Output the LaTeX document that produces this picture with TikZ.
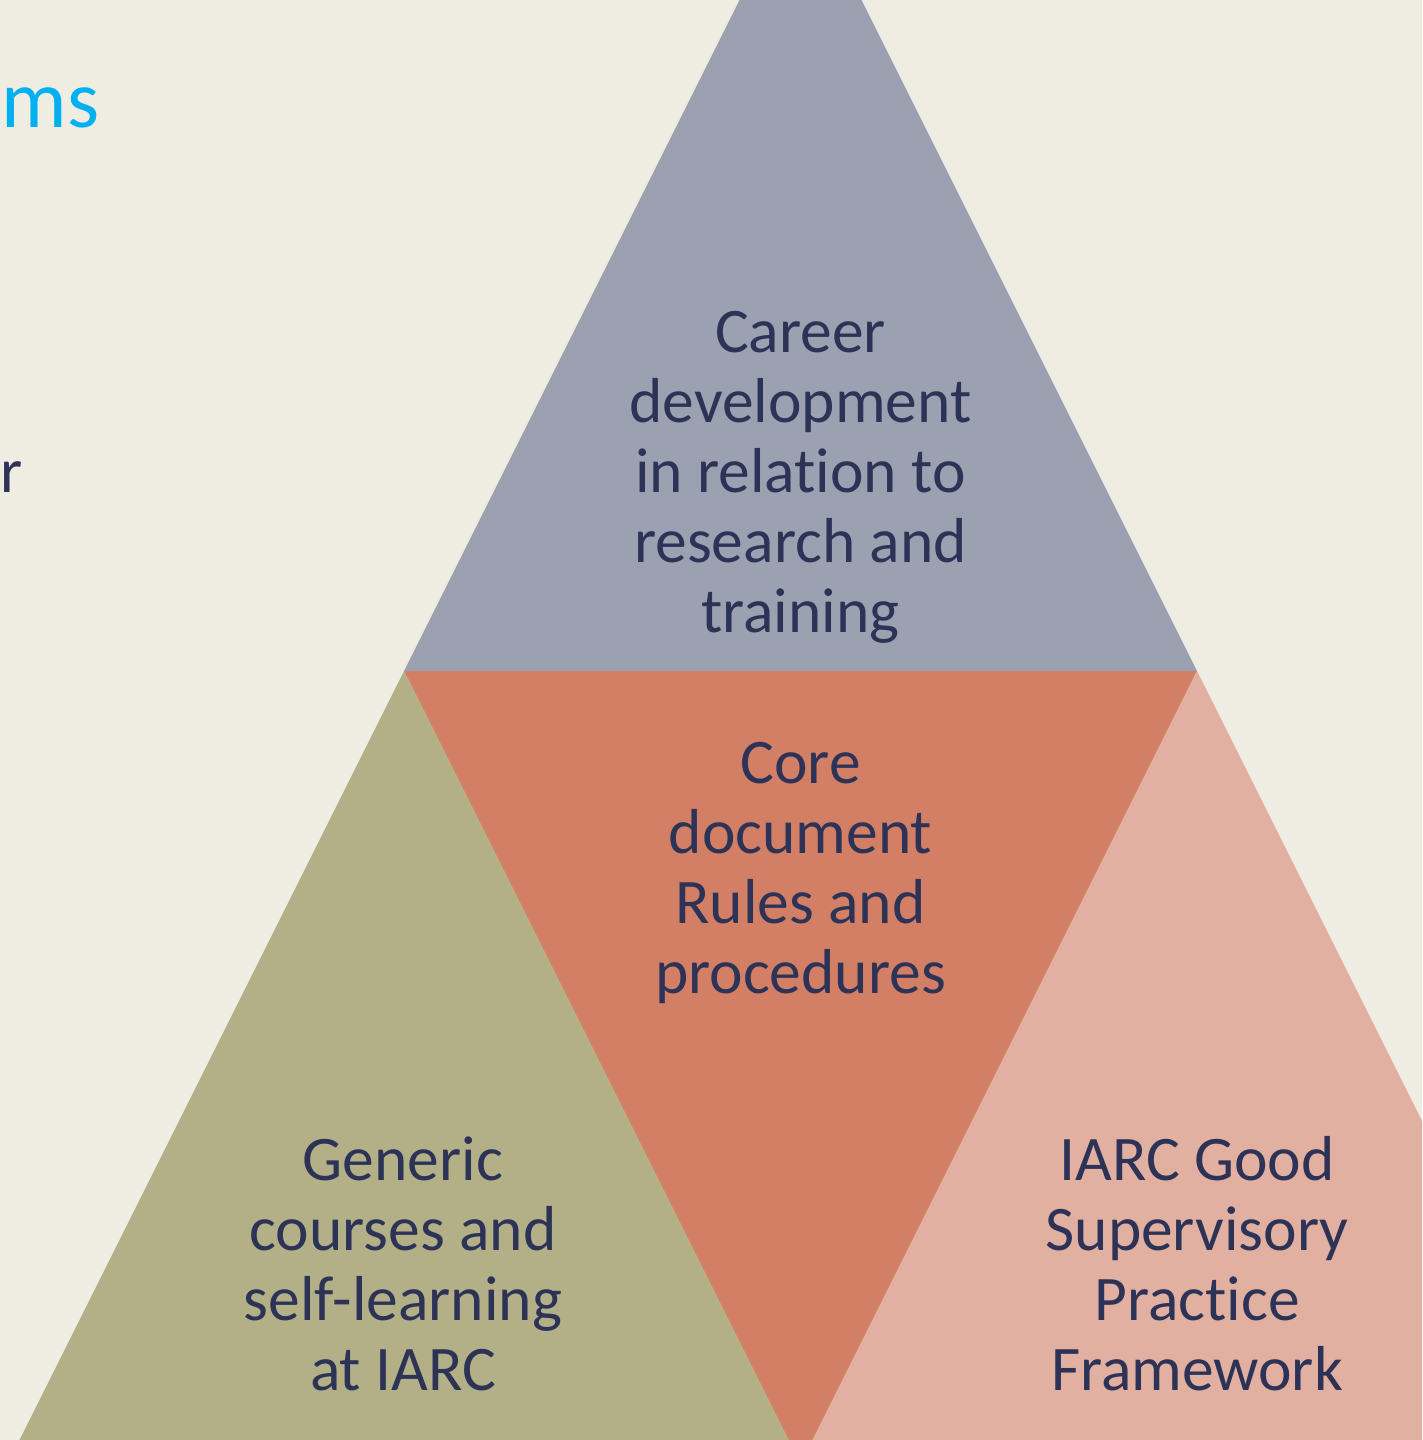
\documentclass[tikz,border=0pt]{standalone}
\usepackage{fontspec}
\setmainfont{Carlito}[Ligatures={NoCommon,NoDiscretionary}]
\definecolor{bgc}{HTML}{EFEDE2}
\definecolor{topc}{HTML}{9CA1B1}
\definecolor{midc}{HTML}{D27F66}
\definecolor{leftc}{HTML}{B3B087}
\definecolor{rightc}{HTML}{E2B0A1}
\definecolor{txtc}{HTML}{2D3356}
\definecolor{titlec}{HTML}{00B0F0}
\newcommand\mystack[1]{\vtop{\baselineskip=70pt\lineskiplimit=-100pt\lineskip=0pt\halign{\hfil##\hfil\cr #1\crcr}}}
\begin{document}
\begin{tikzpicture}[x=1pt,y=-1pt,
  lbl/.style={anchor=base,inner sep=0pt,text=txtc,font=\fontsize{63.5}{70}\selectfont}]
\useasboundingbox (0,0) rectangle (1422,1440);
\clip (0,0) rectangle (1422,1440);
\fill[bgc] (0,0) rectangle (1422,1440);
\coordinate (A) at (404,671);
\coordinate (B) at (1197,671);
\coordinate (T) at (800.5,-122);
\coordinate (M) at (800.5,1464);
\coordinate (L) at (7.5,1464);
\coordinate (R) at (1593.5,1464);
\fill[topc] (T) -- (A) -- (B) -- cycle;
\fill[midc] (A) -- (B) -- (M) -- cycle;
\fill[leftc] (A) -- (M) -- (L) -- cycle;
\fill[rightc] (B) -- (R) -- (M) -- cycle;
\node[lbl] (career) at (800.5,352) {\mystack{Career\cr development\cr in relation to\cr research and\cr training}};
\node[lbl] (core) at (800.5,783) {\mystack{Core\cr document\cr Rules and\cr procedures}};
\node[lbl] (generic) at (403,1180) {\mystack{Generic\cr courses and\cr self-learning\cr at IARC}};
\node[lbl] (iarc) at (1197,1180) {\mystack{IARC Good\cr Supervisory\cr Practice\cr Framework}};
\node[anchor=base east,inner sep=0pt,text=titlec,font=\fontsize{82}{90}\selectfont] (ms) at (99.5,127) {ms};
\node[anchor=base west,inner sep=0pt,text=txtc,font=\fontsize{63.5}{70}\selectfont] (r) at (0,492) {r};
\end{tikzpicture}
\end{document}
